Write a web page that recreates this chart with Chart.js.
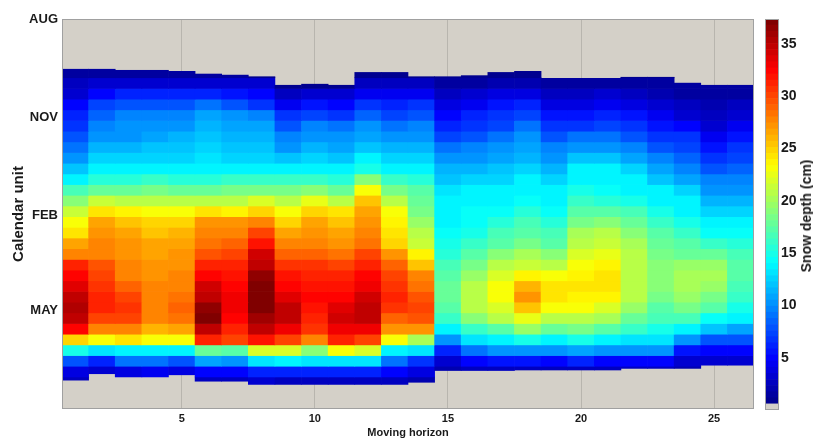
<!DOCTYPE html>
<html>
<head>
<meta charset="utf-8">
<script src="https://cdn.jsdelivr.net/npm/chart.js@4.4.0/dist/chart.umd.min.js"></script>
<style>
  body { margin: 0; background: #fff; }
  #wrap { position: relative; width: 813px; height: 441px; }
  #main { position: absolute; left: 0; top: 0; }
  #cbar { position: absolute; left: 755px; top: 0; }
  #cbarTitle {
    position: absolute; left: 806px; top: 216px;
    transform: translate(-50%, -50%) rotate(-90deg);
    font: bold 14px "Liberation Sans", Arial, sans-serif;
    color: #1a1a1a; white-space: nowrap;
  }
</style>
</head>
<body>
<div id="wrap">
  <canvas id="main" width="760" height="441"></canvas>
  <canvas id="cbar" width="45" height="441"></canvas>
  <div id="cbarTitle">Snow depth (cm)</div>
</div>
<script>
// x: moving horizon 1..26
const horizons = ["1","2","3","4","5","6","7","8","9","10","11","12","13",
                  "14","15","16","17","18","19","20","21","22","23","24","25","26"];

// y: days since 1 Aug, rows of 10 days
const rowStarts = [45,55,65,75,85,95,105,115,125,135,145,155,165,175,185,
                   195,205,215,225,235,245,255,265,275,285,295,305,315,325,335];
const rowLength = 10;

// first / last snow day for each horizon
const snowStart = [47,47,48,48,49,51.5,52.5,54,62,61,62,50,50,54,54,53,50,49,55.5,55.5,55.5,54.5,54.5,60,62,62];
const snowEnd = [338,332,335,335,333,339,339,342,342,342,342,342,342,340,329,329,329,328.5,328.5,328.5,328.5,327,327,327,324,324];

// snow depth (cm), one list per horizon, one value per row
const depth = [
  [1.5,2.5,3.5,5,6,7,8,9,10.5,12,14,16.5,19,21.5,23,24,26.5,28,31,32.5,33.5,35,35.5,35,32.5,25,15,8,4,2.5],
  [1.5,3,5,7.5,8.5,9.5,10.5,11.5,12.5,14,15.5,18,21.5,24,26.5,27,27.5,28,29.5,30,30.5,31,31.5,30,28,23,13,6,3,null],
  [1.5,3.5,6,8,9.5,10,10.5,11.5,12.5,13.5,15.5,18,20.5,23.5,25.5,26.5,27,27,27.5,28,29,30,30.5,30,28,24,14,9,4,null],
  [1.5,3.5,6,8,9.5,10.5,11,12,12.5,14,16,18.5,21,23,25,25.5,26.5,26.5,27,27,27.5,27.5,28,27.5,26,23,14,9,4.5,null],
  [1.5,3.5,6,8,9.5,10.5,11.5,12,12.5,13.5,15.5,18,21,23,25,26,26.5,27,27,27.5,28,28.5,29,28.5,26.5,23,14,8,4,null],
  [1.5,3.5,6,9,11,11.5,12,12.5,13,13.5,15.5,18,21,24,27,27.5,28.5,29.5,31,32.5,34,35,36.5,37,35,31,18,11,5,2.5],
  [1.5,3,5.5,8,10,11,11.5,12,12.5,14,16,18.5,21,23.5,27,28,29,30,31.5,32,32.5,33,33,32.5,31.5,30,17,10,5,2.5],
  [1,3,5,7,9.5,11,11.5,12,12.5,14,16,18.5,22,25,27.5,30,32,34,35,36.5,37,37,37,36,34.5,32,22,13,6,3],
  [null,1,2.5,4.5,6.5,8,9.5,10.5,12,14,16,18.5,21,23,25,26.5,27.5,29,30.5,32,32.5,33.5,35,35,33,30,22,14,6,2.5],
  [null,1,3,5.5,7.5,9.5,10.5,11.5,12.5,14,16,19,22.5,25,26.5,27,27.5,29,30.5,31.5,32,32.5,32,31.5,30.5,28,19,13,6,2.5],
  [null,1,3,5,7,9,10,11,12,13.5,15.5,18,20.5,24,25.5,26.5,27,28.5,30,31.5,32,32.5,33.5,34,33,31.5,23,13,6,2.5],
  [1,2.5,4.5,6.5,8.5,10,11,12,13.5,15,19,23,25.5,26.5,27,27.5,28.5,30,31.5,32.5,33,34,34.5,34.5,33,30,22,13,6,2.5],
  [1,2.5,4.5,6,7.5,9,10,11.5,12.5,13.5,16,18.5,21,23,23.5,24,25,27,29,30,30.5,31,30.5,29,27,23,14,9,5,2.5],
  [1,2.5,4.5,6.5,8,9.5,10.5,11.5,12.5,14,15.5,17,18,18.5,19.5,20.5,21.5,23.5,25.5,27.5,28.5,29.5,30,29.5,27,20,13,7,4,2],
  [1,1.5,2.5,4,5,6,7.5,9,10,11.5,12,13,13.5,14,14,14.5,15,15.5,16.5,17.5,18,18,17.5,16,13.5,10,6,3.5,2,null],
  [1,1.5,3,4.5,6,7,8,9.5,10.5,11.5,12.5,13.5,14,14.5,14.5,15,16,17,18.5,19.5,20.5,21,20.5,19,16,13,9,5,2.5,null],
  [1,2,4,5.5,6.5,7.5,9,10,11,12,12.5,13.5,14,14.5,15.5,16.5,17.5,19,20.5,22,23,23,22,20.5,17.5,14,10,5.5,2.5,null],
  [1,2,4,6,7.5,9,10,11,11.5,12.5,13.5,14,14.5,15.5,16.5,17.5,18.5,20,21.5,23.5,26,27,25.5,22.5,19.5,15,10.5,5.5,2.5,null],
  [null,1.5,2.5,4,5.5,7,8,9.5,10.5,11.5,12.5,13.5,14,14.5,15.5,16.5,17.5,19,21,23,24,24,23,21,18,14,10,5,2.5,null],
  [null,1.5,2.5,4,5.5,7,9,10.5,12,13.5,14,15,16,17,18.5,20,21,22,23,23.5,24,23.5,23,21,18.5,15,11,6,2.5,null],
  [null,1.5,3,4.5,6,7.5,9,10.5,12,13.5,14,14.5,15.5,17.5,19,20.5,21.5,22.5,23.5,24,24.5,23.5,22,20,17.5,14,10,5,2.5,null],
  [1,1.5,2.5,4,5.5,6.5,8,9.5,11,12.5,13.5,14,15,16.5,18,19,20,20.5,21,21,21,20.5,19.5,18,16,13,10,5,2.5,null],
  [1,1.5,2,3,4.5,5.5,7,8,9.5,11,12,13.5,14,15,16,17,18,18.5,19,19,19,18.5,17.5,16.5,15,13,10,5,2.5,null],
  [null,1.2,1.5,2.5,3.5,5,6.5,7.5,8.5,9.5,11,12.5,13.5,14,15,16,17,18,19.5,20,20,19.5,18.5,16.5,14,10,5.5,3.5,2,null],
  [null,1.2,1.5,2,2.5,3.5,4.5,5.5,7,8,9.5,10.5,11.5,12.5,13.5,14.5,16,18,19.5,20,19.5,18.5,17,14.5,12,8,5,3,null,null],
  [null,1.2,1.5,2.5,3.5,4.5,5.5,6.5,7.5,8.5,9.5,10.5,11.5,12.5,13.5,14.5,15.5,16.5,17,17,16.5,16,15,13.5,11,8,5,3,null,null]
];

const monthTicks = [0, 92, 184, 273];
const monthLabels = ["AUG", "NOV", "FEB", "MAY"];
const colorMax = 37.4;
const colorTicks = [5, 10, 15, 20, 25, 30, 35];

const axisGray = "rgb(212,208,200)";
const gridColor = "rgba(0,0,0,0.13)";
const textColor = "#1a1a1a";
const fontFamily = '"Liberation Sans", Arial, sans-serif';

// jet colormap with 64 levels, lowest level is background gray
const levelColor = (k) => {
  if (k <= 0) return axisGray;
  const f = k / 63;
  const c = (x) => Math.round(255 * Math.max(0, Math.min(1, x)));
  return `rgb(${c(1.5 - Math.abs(4 * f - 3))},${c(1.5 - Math.abs(4 * f - 2))},${c(1.5 - Math.abs(4 * f - 1))})`;
};
const jet = (v) => {
  if (v == null) return "transparent";
  return levelColor(Math.max(1, Math.min(63, Math.floor(v / colorMax * 64))));
};

const boxPlugin = {
  id: "plotBox",
  beforeDraw(chart, args, opts) {
    if (!opts.fill) return;
    const { ctx, chartArea: a } = chart;
    ctx.save();
    ctx.fillStyle = opts.fill;
    ctx.fillRect(a.left, a.top, a.right - a.left, a.bottom - a.top);
    ctx.restore();
  },
  afterDraw(chart) {
    const { ctx, chartArea: a } = chart;
    ctx.save();
    ctx.strokeStyle = "#a0a0a0";
    ctx.lineWidth = 1;
    ctx.strokeRect(a.left + 0.5, a.top + 0.5, a.right - a.left - 1, a.bottom - a.top - 1);
    ctx.restore();
  }
};

const datasets = rowStarts.map((r0, i) => ({
  data: horizons.map((h, c) => {
    if (depth[c][i] == null) return null;
    return [Math.max(r0, snowStart[c]), Math.min(r0 + rowLength, snowEnd[c])];
  }),
  backgroundColor: horizons.map((h, c) => jet(depth[c][i])),
  borderWidth: 0,
  grouped: false,
  barPercentage: 1,
  categoryPercentage: 1
}));

new Chart(document.getElementById("main"), {
  type: "bar",
  data: { labels: horizons, datasets: datasets },
  options: {
    responsive: false,
    animation: false,
    devicePixelRatio: 1,
    layout: { padding: { top: 19, right: 6, left: 0, bottom: 0 } },
    plugins: {
      legend: { display: false },
      tooltip: { enabled: false },
      plotBox: { fill: axisGray }
    },
    scales: {
      x: {
        type: "category",
        offset: true,
        z: 1,
        grid: {
          offset: false,
          drawTicks: false,
          color: (ctx) => ((ctx.index + 1) % 5 === 0 ? gridColor : "transparent")
        },
        border: { display: false },
        ticks: {
          autoSkip: false,
          maxRotation: 0,
          padding: 3,
          color: textColor,
          font: { family: fontFamily, size: 11, weight: "bold" },
          callback: (v, i) => ((i + 1) % 5 === 0 ? horizons[i] : "")
        },
        title: {
          display: true,
          text: "Moving horizon",
          color: textColor,
          font: { family: fontFamily, size: 11, weight: "bold" },
          padding: { top: 0, bottom: 1 }
        },
        afterFit: (s) => { s.height = 32; }
      },
      y: {
        type: "linear",
        reverse: true,
        min: 0,
        max: 365,
        z: 1,
        afterBuildTicks: (s) => { s.ticks = monthTicks.map((v) => ({ value: v })); },
        grid: { drawTicks: false, color: gridColor },
        border: { display: false },
        ticks: {
          padding: 4,
          color: textColor,
          font: { family: fontFamily, size: 13, weight: "bold" },
          callback: (v) => monthLabels[monthTicks.indexOf(v)]
        },
        title: {
          display: true,
          text: "Calendar unit",
          color: textColor,
          font: { family: fontFamily, size: 15, weight: "bold" },
          padding: { top: 10, bottom: 0 }
        },
        afterFit: (s) => { s.width = 62; }
      }
    }
  },
  plugins: [boxPlugin]
});

// colour bar
const levels = [];
for (let k = 0; k < 64; k++) levels.push(k);

new Chart(document.getElementById("cbar"), {
  type: "bar",
  data: {
    labels: [""],
    datasets: levels.map((k) => ({
      data: [[k * colorMax / 64, (k + 1) * colorMax / 64]],
      backgroundColor: levelColor(k),
      borderWidth: 0,
      grouped: false,
      barPercentage: 1,
      categoryPercentage: 1
    }))
  },
  options: {
    responsive: false,
    animation: false,
    devicePixelRatio: 1,
    layout: { padding: { top: 19, left: 10, right: 0, bottom: 31 } },
    plugins: { legend: { display: false }, tooltip: { enabled: false }, plotBox: { fill: null } },
    scales: {
      x: { display: false },
      y: {
        position: "right",
        min: 0,
        max: colorMax,
        afterBuildTicks: (s) => { s.ticks = colorTicks.map((v) => ({ value: v })); },
        grid: { display: false, drawTicks: false },
        border: { display: false },
        ticks: {
          padding: 2,
          color: textColor,
          font: { family: fontFamily, size: 14, weight: "bold" }
        },
        afterFit: (s) => { s.width = 21; }
      }
    }
  },
  plugins: [boxPlugin]
});
</script>
</body>
</html>
